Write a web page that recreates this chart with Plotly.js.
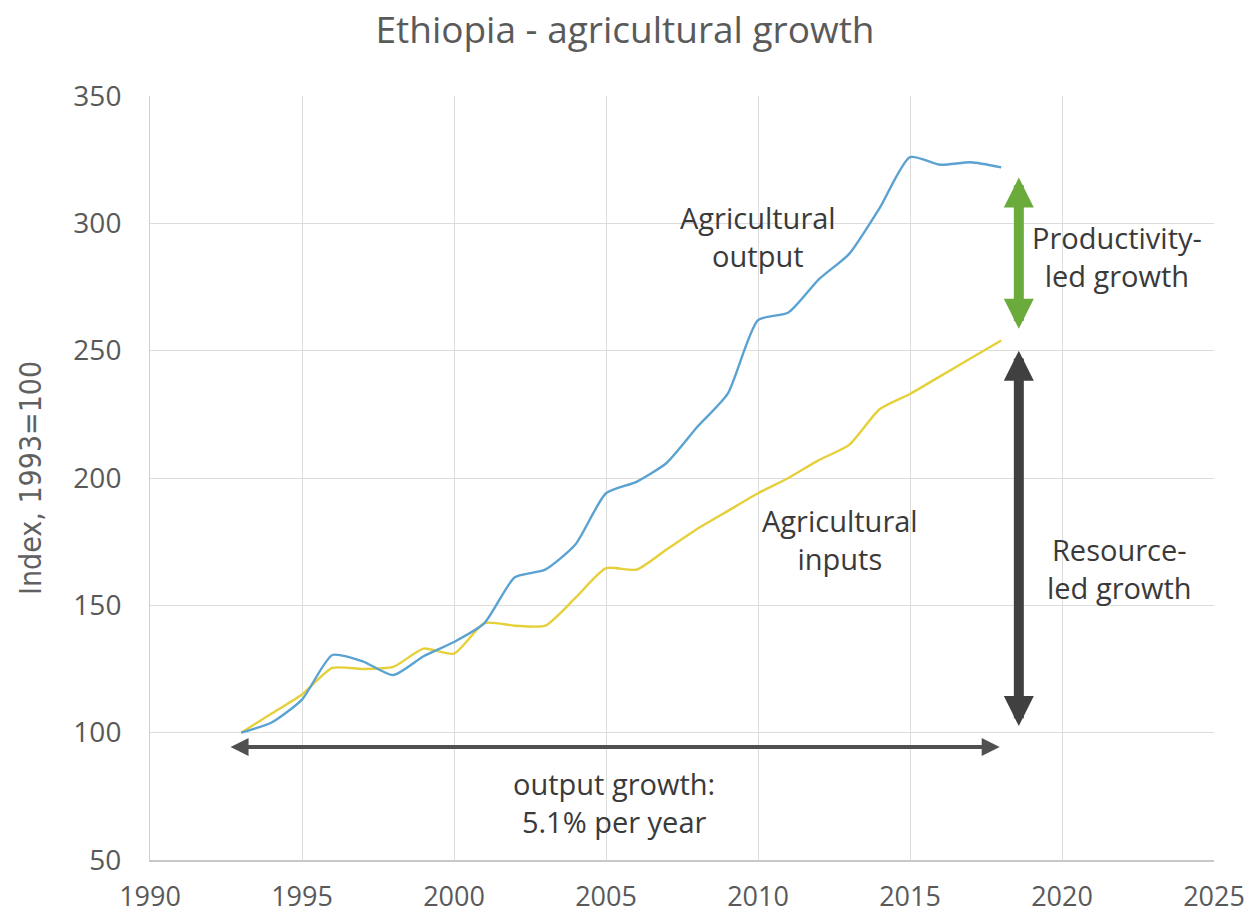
<!DOCTYPE html>
<html>
<head>
<meta charset="utf-8">
<script src="https://cdn.plot.ly/plotly-3.0.1.min.js"></script>
<style>html,body{margin:0;padding:0;background:#fff;}#chart{width:1250px;height:924px;}</style>
</head>
<body>
<div id="chart"></div>
<script>
var years = [1993,1994,1995,1996,1997,1998,1999,2000,2001,2002,2003,2004,2005,2006,2007,2008,2009,2010,2011,2012,2013,2014,2015,2016,2017,2018];
var agOutput = [100,104,113,130.5,128,122.6,130,135.6,143,161,164,174,194,198.5,206,220,233,262,265,278,288,306,326,323,324,322];
var agInputs = [100,107.5,115,125.4,125,125.8,133,131,143,142,142,153,164.6,164,172,180,187,194,200,207,213,227,233,240,247,254];
var xTicks = [1990,1995,2000,2005,2010,2015,2020,2025];
var yTicks = [50,100,150,200,250,300,350];

var font = "Open Sans, Liberation Sans, sans-serif";
var traces = [
  {x: years, y: agInputs, mode: 'lines', line: {color: '#e6d03a', width: 2.4, shape: 'spline', smoothing: 0.6}, name: 'Agricultural inputs', hoverinfo: 'skip'},
  {x: years, y: agOutput, mode: 'lines', line: {color: '#5aa2d2', width: 2.4, shape: 'spline', smoothing: 0.6}, name: 'Agricultural output', hoverinfo: 'skip'}
];

function arrow(x0, y0, x1, y1, color, w, size) {
  return {x: x1, y: y1, ax: x0, ay: y0, xref: 'x', yref: 'y', axref: 'x', ayref: 'y',
    text: '', showarrow: true, arrowhead: 2, arrowside: 'end+start', arrowsize: size, arrowwidth: w, arrowcolor: color,
    standoff: 0, startstandoff: 0};
}
function label(x, y, t, sz) {
  return {x: x, y: y, xref: 'x', yref: 'y', text: t, showarrow: false, align: 'center',
    font: {family: font, size: sz || 29, color: '#3a3a3a'}};
}

var layout = {
  width: 1250, height: 924,
  margin: {l: 150, r: 36, t: 96, b: 64},
  paper_bgcolor: '#ffffff', plot_bgcolor: '#ffffff',
  showlegend: false,
  title: {text: 'Ethiopia - agricultural growth', x: 0.5, xref: 'container', y: 0.967, yanchor: 'middle',
    font: {family: font, size: 37, color: '#5a5a5a'}},
  xaxis: {range: [1990, 2025], tickvals: xTicks, ticktext: xTicks.map(String), showgrid: true, gridcolor: '#dcdcdc', gridwidth: 1,
    zeroline: false, showline: true, linecolor: '#c8c8c8', linewidth: 1.5, ticks: '', mirror: false,
    tickfont: {family: font, size: 27, color: '#595959'}, ticklabelstandoff: 12},
  yaxis: {range: [50, 350], tickvals: yTicks, ticktext: yTicks.map(String), showgrid: true, gridcolor: '#dcdcdc', gridwidth: 1,
    zeroline: false, showline: true, linecolor: '#d0d0d0', linewidth: 1, ticks: '',
    tickfont: {family: font, size: 28, color: '#595959'}, ticklabelstandoff: 22},
  annotations: [
    {x: -0.1128, y: 0.5, xref: 'paper', yref: 'paper', text: 'Index, 1993=100', textangle: -90, showarrow: false,
      xanchor: 'center', yanchor: 'middle',
      font: {family: 'DejaVu Sans Condensed, Liberation Sans Narrow, sans-serif', size: 30, color: '#606060'}},
    arrow(2018.58, 258, 2018.58, 318, '#6aab3c', 10, 0.6),
    arrow(2018.58, 102, 2018.58, 250, '#404040', 10, 0.6),
    arrow(1992.6, 94.4, 2017.95, 94.4, '#505050', 4, 0.9),
    label(2010.0, 295, 'Agricultural<br>output'),
    label(2012.7, 176, 'Agricultural<br>inputs'),
    label(2021.8, 287, 'Productivity-<br>led growth'),
    label(2021.9, 164.6, 'Resource-<br>led growth'),
    label(2005.26, 72.7, 'output growth:<br>5.1% per year')
  ]
};
Plotly.newPlot('chart', traces, layout, {displayModeBar: false, staticPlot: true});
</script>
</body>
</html>
